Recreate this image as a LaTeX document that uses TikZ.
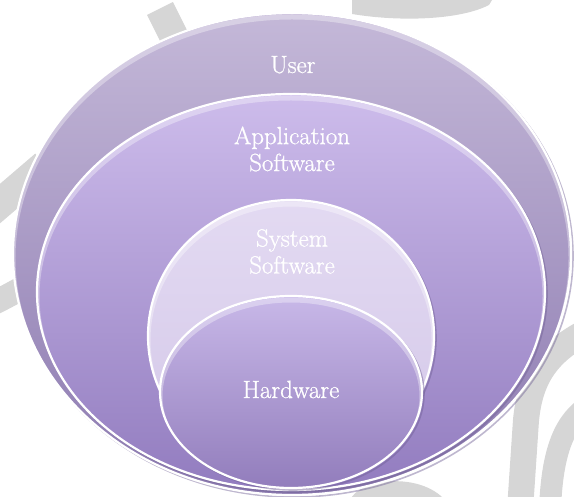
\documentclass[tikz,border=0pt]{standalone}
\usepackage{fontspec}
\newfontfamily\lblfont{Latin Modern Roman}[FakeBold=0.9]
\usetikzlibrary{shapes.geometric}
\definecolor{wmgray}{HTML}{D6D6D6}
\definecolor{usertop}{HTML}{C4B8D8}
\definecolor{userbot}{HTML}{8C7AB0}
\definecolor{apptop}{HTML}{CDBCEB}
\definecolor{appbot}{HTML}{927CBF}
\definecolor{systop}{HTML}{E3DAF2}
\definecolor{sysbot}{HTML}{D3C7E8}
\definecolor{hwtop}{HTML}{C8B8E8}
\definecolor{hwbot}{HTML}{927DBC}
\definecolor{rimshade}{HTML}{6F5F94}
\tikzset{
  wmk/.style={draw=wmgray, line width=28bp},
  disc/.style={draw=white, line width=2.2bp},
  discshadow/.style={draw=rimshade, line width=1.6bp, opacity=0.45},
  gloss/.style={draw=white, line width=5bp, opacity=0.35},
  lbl/.style={text=white, font=\lblfont\fontsize{25}{27}\selectfont, align=center, inner sep=0pt}
}
\begin{document}
\begin{tikzpicture}[x=1bp,y=-1bp]
\useasboundingbox (0,0) rectangle (574,497);
% watermark strokes
\draw[wmk, line width=29bp] (160,8.5) -- (215,118.5);
\draw[wmk, line width=30bp] (-25,225) -- (45,165);
\draw[wmk, line width=24bp] (-20,310) .. controls (10,295) and (40,280) .. (70,255);
\fill[wmgray] (352,0) -- (352,14) .. controls (400,22) and (460,20) .. (489,5) -- (492,0) -- cycle;
\draw[wmk, line width=26bp] (590,330) .. controls (545,352) and (530,380) .. (526,420) -- (520,510);
\draw[wmk, line width=22bp] (590,405) .. controls (565,420) and (552,450) .. (550,510);
\fill[wmgray] (350,500) .. controls (360,478) and (420,472) .. (445,500) -- cycle;
% User layer
\draw[discshadow] (294,256) ellipse [x radius=279bp, y radius=241bp];
\path[disc, top color=usertop, bottom color=userbot] (292,254) ellipse [x radius=279bp, y radius=241bp];
\begin{scope}
  \clip (292,254) ellipse [x radius=279bp, y radius=241bp];
  \draw[gloss] (292,258) ellipse [x radius=279bp, y radius=241bp];
\end{scope}
% Application layer
\draw[discshadow] (293,294) ellipse [x radius=254bp, y radius=198bp];
\path[disc, top color=apptop, bottom color=appbot] (291,292) ellipse [x radius=254bp, y radius=198bp];
\begin{scope}
  \clip (291,292) ellipse [x radius=254bp, y radius=198bp];
  \draw[gloss] (291,296) ellipse [x radius=254bp, y radius=198bp];
\end{scope}
% System layer
\draw[discshadow] (293,338) ellipse [x radius=143bp, y radius=136bp];
\path[disc, top color=systop, bottom color=sysbot] (291,336) ellipse [x radius=143bp, y radius=136bp];
\begin{scope}
  \clip (291,336) ellipse [x radius=143bp, y radius=136bp];
  \draw[gloss] (291,340) ellipse [x radius=143bp, y radius=136bp];
\end{scope}
% Hardware layer
\draw[discshadow] (293,394) ellipse [x radius=131bp, y radius=96bp];
\path[disc, top color=hwtop, bottom color=hwbot] (291,392) ellipse [x radius=131bp, y radius=96bp];
\begin{scope}
  \clip (291,392) ellipse [x radius=131bp, y radius=96bp];
  \draw[gloss] (291,396) ellipse [x radius=131bp, y radius=96bp];
\end{scope}
% labels
\node[lbl, anchor=base] (user) at (293,73) {User};
\node[lbl] (app) at (292,149) {Application\\Software};
\node[lbl] (sys) at (292,251.5) {System\\Software};
\node[lbl, anchor=base] (hw) at (291,398) {Hardware};
\end{tikzpicture}
\end{document}
